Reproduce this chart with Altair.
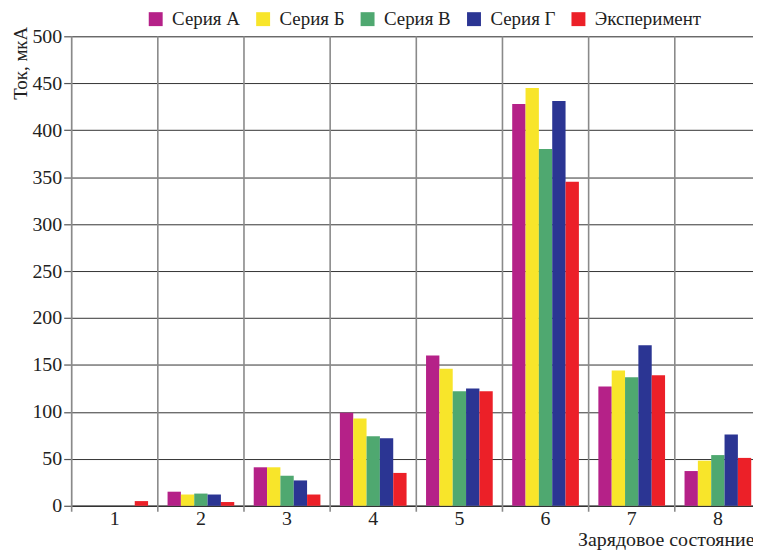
import altair as alt
import pandas as pd

categories = ["1", "2", "3", "4", "5", "6", "7", "8"]
series_names = ["Серия А", "Серия Б", "Серия В", "Серия Г", "Эксперимент"]
seria_a = [0, 15, 41, 99, 160, 428, 127, 37]
seria_b = [0, 12, 41, 93, 146, 445, 144, 48]
seria_v = [0, 13, 32, 74, 122, 380, 137, 54]
seria_g = [0, 12, 27, 72, 125, 431, 171, 76]
experiment = [5, 4, 12, 35, 122, 345, 139, 51]
colors = ["#B52188", "#F8E52A", "#4FA870", "#2B3593", "#EC2028"]
y_ticks = [0, 50, 100, 150, 200, 250, 300, 350, 400, 450, 500]

rows = []
for name, vals in zip(series_names, [seria_a, seria_b, seria_v, seria_g, experiment]):
    for c, v in zip(categories, vals):
        rows.append({"cat": c, "series": name, "value": v})
df = pd.DataFrame(rows)
cat_df = pd.DataFrame({"cat": categories})

FONT = "Liberation Serif"
W, H = 685, 472

xscale = alt.Scale(domain=categories, range=[0, 693], paddingInner=0, paddingOuter=0)
xaxis = alt.Axis(
    title="Зарядовое состояние",
    ticks=False,
    grid=False,
    domainColor="#333333",
    domainWidth=1.5,
    labelAngle=0,
    labelFont=FONT,
    labelFontSize=20,
    labelColor="#222222",
    labelPadding=3,
    labelLineHeight=18,
    titleFont=FONT,
    titleFontSize=20,
    titleFontWeight="normal",
    titleColor="#222222",
    titleAnchor="end",
    titleAlign="right",
    titleBaseline="alphabetic",
    titleX=W + 1,
    titleY=40,
)

rules = alt.Chart(cat_df).mark_rule(color="#8a8a8a", strokeWidth=1.6).encode(
    x=alt.X("cat:O", bandPosition=0, scale=xscale, axis=xaxis),
    y=alt.value(0),
    y2=alt.value(H + 6),
)

bars = alt.Chart(df).mark_bar().encode(
    x=alt.X("cat:O", scale=xscale, axis=xaxis),
    xOffset=alt.XOffset(
        "series:N", sort=series_names,
        scale=alt.Scale(domain=series_names, paddingOuter=0.73, paddingInner=0),
    ),
    y=alt.Y(
        "value:Q",
        scale=alt.Scale(domain=[0, 500], nice=False),
        axis=alt.Axis(
            title="Ток, мкА",
            values=y_ticks,
            grid=True,
            gridColor="#333333",
            gridWidth=1,
            domain=False,
            tickSize=8,
            tickColor="#555555",
            tickWidth=1.2,
            labelFont=FONT,
            labelFontSize=20,
            labelColor="#222222",
            labelPadding=2,
            titleFont=FONT,
            titleFontSize=19,
            titleFontWeight="normal",
            titleColor="#222222",
            titleAngle=-90,
            titleAlign="right",
            titleBaseline="alphabetic",
            titleX=-45,
            titleY=-10,
        ),
    ),
    color=alt.Color(
        "series:N",
        sort=series_names,
        scale=alt.Scale(domain=series_names, range=colors),
        legend=alt.Legend(
            title=None,
            orient="none",
            direction="horizontal",
            legendX=75,
            legendY=-27,
            symbolType="square",
            symbolSize=196,
            symbolStrokeWidth=0,
            symbolOpacity=1,
            labelFont=FONT,
            labelFontSize=19,
            labelColor="#222222",
            labelOffset=7,
            labelLimit=300,
            columnPadding=13,
        ),
    ),
)

chart = alt.layer(rules, bars).properties(
    width=W,
    height=H,
    autosize=alt.AutoSizeParams(type="none"),
    padding={"left": 64, "top": 27, "right": 0, "bottom": 44},
).configure_view(strokeWidth=0).configure(
    background="white", font=FONT
).configure_axis(labelFont=FONT, titleFont=FONT).configure_legend(labelFont=FONT)

chart.save("out.html", embed_options={"renderer": "svg", "actions": False})
